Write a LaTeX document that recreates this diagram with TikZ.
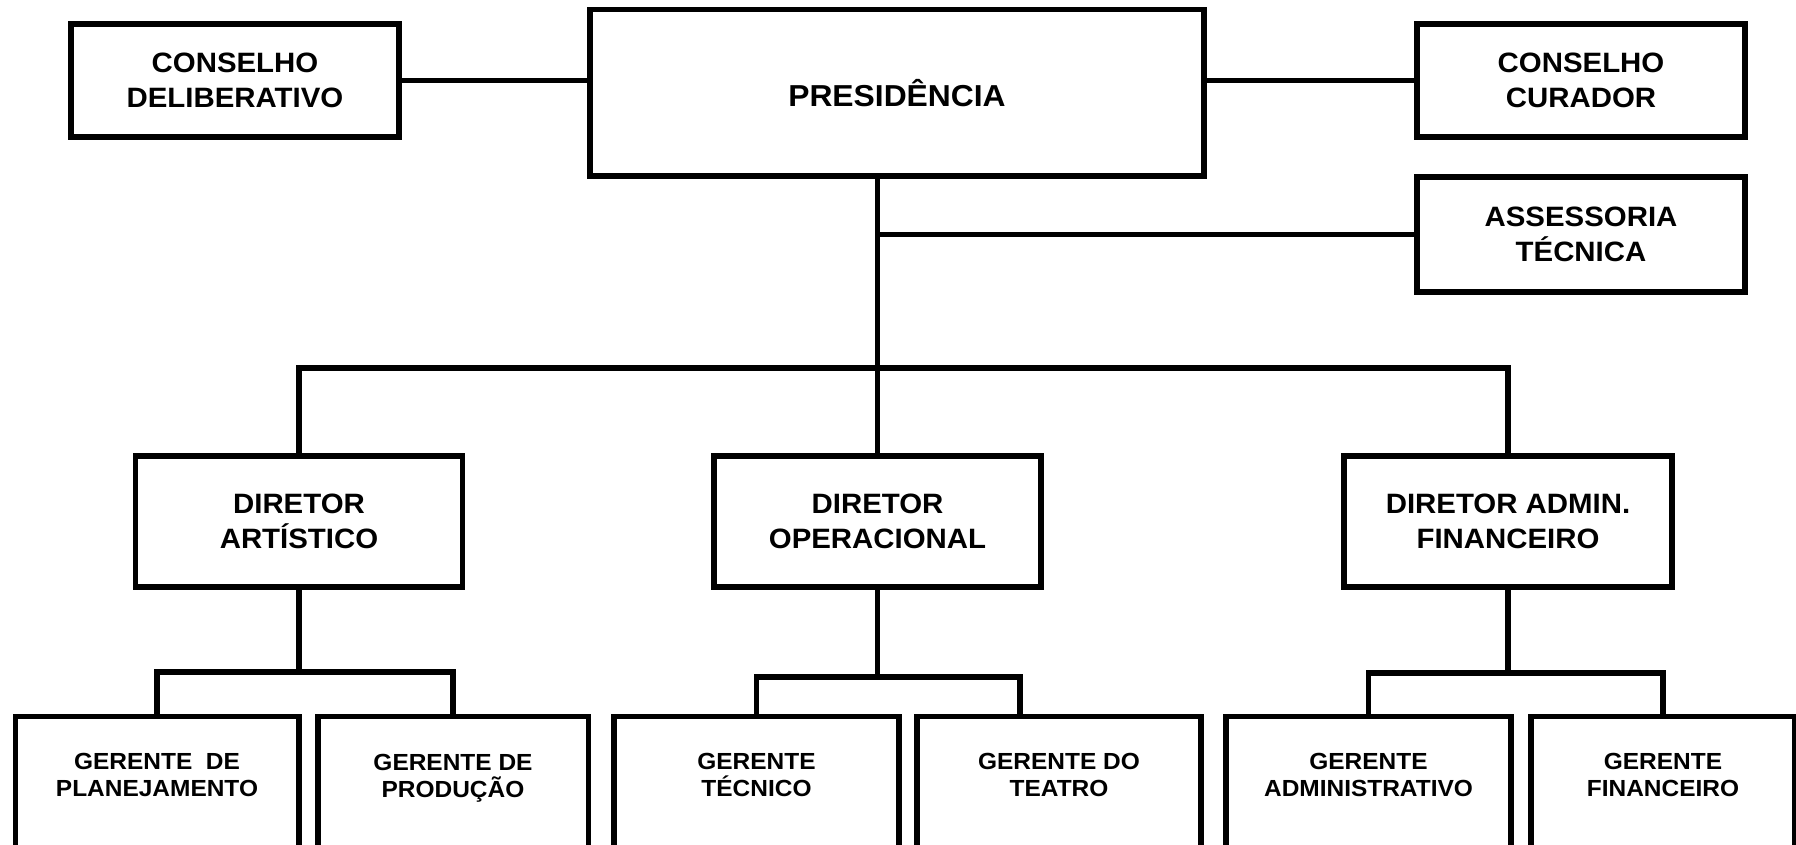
\documentclass[tikz,border=0pt]{standalone}
\usepackage{fontspec}
\setmainfont{Liberation Sans}[FakeStretch=1.05]

\tikzset{
  caixa/.style={draw, rectangle, line width=5.5pt, inner sep=0pt, align=center},
  conselho/.style={caixa, minimum width=328pt, minimum height=113pt,
    font=\fontsize{28}{35}\selectfont\bfseries},
  presid/.style={caixa, minimum width=614pt, minimum height=166.5pt,
    font=\fontsize{30.3}{36}\selectfont\bfseries},
  diretor/.style={caixa, minimum width=327pt, minimum height=131pt,
    font=\fontsize{28}{35.5}\selectfont\bfseries},
  gerente/.style={caixa, anchor=north, minimum height=260pt},
  gtexto/.style={align=center, inner sep=0pt,
    font=\fontsize{23.3}{27}\selectfont\bfseries},
  ligacao/.style={line width=5.5pt}
}

\begin{document}
\begin{tikzpicture}[x=1pt,y=-1pt]
  \useasboundingbox (0,0) rectangle (1796,845);
  \clip (0,0) rectangle (1796,845);

  % Topo
  \node[conselho] (condel) at (235,80.5) {CONSELHO\\DELIBERATIVO};
  \node[presid] (pres) at (897,92.75) {PRESIDÊNCIA};
  \node[conselho] (concur) at (1581,80.5) {CONSELHO\\CURADOR};
  \node[conselho, minimum height=115pt] (assess) at (1581,234.5) {ASSESSORIA\\TÉCNICA};

  % Diretores
  \node[diretor] (dirart) at (299,521.5) {DIRETOR\\ARTÍSTICO};
  \node[diretor] (dirop) at (877.5,521.5) {DIRETOR\\OPERACIONAL};
  \node[diretor, minimum width=328pt] (diradm) at (1508,521.5) {DIRETOR ADMIN.\\FINANCEIRO};

  % Gerentes (caixas cortadas embaixo)
  \node[gerente, minimum width=283.5pt] (gplan) at (157,713.5) {};
  \node[gerente, minimum width=270.5pt] (gprod) at (453,713.5) {};
  \node[gerente, minimum width=285pt] (gtec) at (756.5,713.5) {};
  \node[gerente, minimum width=284pt] (gteat) at (1059,713.5) {};
  \node[gerente, minimum width=285pt] (gadm) at (1368.5,713.5) {};
  \node[gerente, minimum width=264pt] (gfin) at (1663,713.5) {};

  \node[gtexto] (tplan) at (gplan.north |- 0,775) {GERENTE~~DE\\PLANEJAMENTO};
  \node[gtexto] (tprod) at (gprod.north |- 0,778.5) {GERENTE DE\\PRODUÇÃO};
  \node[gtexto] (ttec) at (gtec.north |- 0,775) {GERENTE\\TÉCNICO};
  \node[gtexto] (tteat) at (gteat.north |- 0,775) {GERENTE DO\\TEATRO};
  \node[gtexto] (tadm) at (gadm.north |- 0,775) {GERENTE\\ADMINISTRATIVO};
  \node[gtexto] (tfin) at (gfin.north |- 0,775) {GERENTE\\FINANCEIRO};

  % Ligacoes de cima
  \coordinate (barra) at (877.5,368);
  \draw[ligacao] (condel.east) -- (condel.east -| pres.west);
  \draw[ligacao] (concur.west) -- (concur.west -| pres.east);
  \draw[ligacao] (pres.south -| dirop.north) -- (dirop.north);
  \draw[ligacao] (assess.west) -- (assess.west -| dirop.north);
  \draw[ligacao] (dirart.north) |- (barra) -| (diradm.north);

  % Ligacoes para os gerentes
  \coordinate (barart) at (299,672);
  \coordinate (barop) at (877.5,677);
  \coordinate (baradm) at (1508,673);
  \draw[ligacao] (dirart.south) -- (barart);
  \draw[ligacao] (gplan.north) |- (barart) -| (gprod.north);
  \draw[ligacao] (dirop.south) -- (barop);
  \draw[ligacao] (gtec.north) |- (barop) -| ([xshift=-39pt]gteat.north);
  \draw[ligacao] (diradm.south) -- (baradm);
  \draw[ligacao] (gadm.north) |- (baradm) -| (gfin.north);
\end{tikzpicture}
\end{document}
